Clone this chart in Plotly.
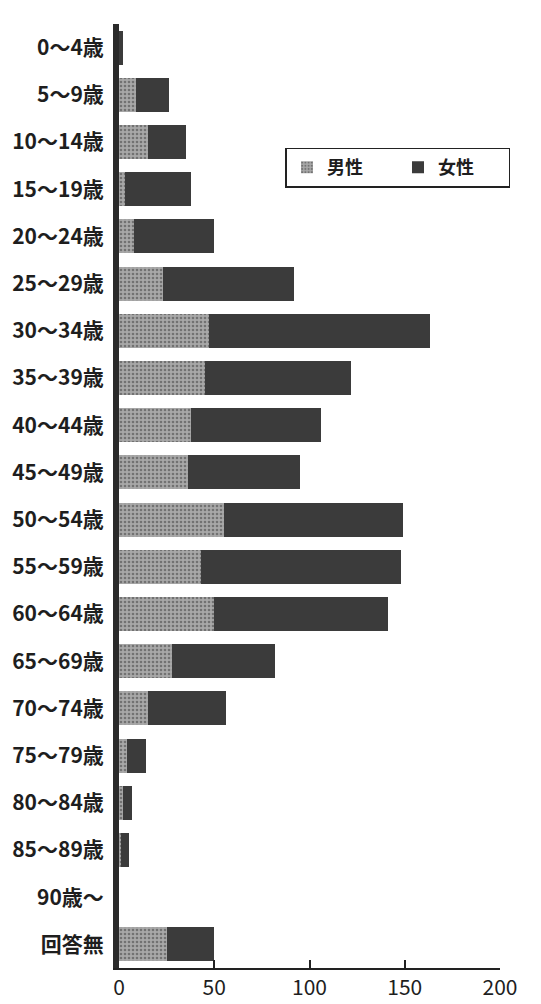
import plotly.graph_objects as go

categories = ["0～4歳", "5～9歳", "10～14歳", "15～19歳", "20～24歳", "25～29歳",
              "30～34歳", "35～39歳", "40～44歳", "45～49歳", "50～54歳", "55～59歳",
              "60～64歳", "65～69歳", "70～74歳", "75～79歳", "80～84歳", "85～89歳",
              "90歳～", "回答無"]
male = [0, 9, 15, 3, 8, 23, 47, 45, 38, 36, 55, 43, 50, 28, 15, 4, 2, 1, 0, 25]
female = [2, 17, 20, 35, 42, 69, 116, 77, 68, 59, 94, 105, 91, 54, 41, 10, 5, 4, 0, 25]
x_ticks = [0, 50, 100, 150, 200]

font_family = "Noto Sans CJK JP, Noto Sans, sans-serif"

fig = go.Figure()
fig.add_trace(go.Bar(
    y=categories, x=male, orientation="h", name="男性",
    marker=dict(color="#a8a8a8", line=dict(width=0),
                pattern=dict(shape=".", fgcolor="#3c3c3c", size=4, solidity=0.35)),
))
fig.add_trace(go.Bar(
    y=categories, x=female, orientation="h", name="女性",
    marker=dict(color="#3b3b3b", line=dict(width=0)),
))

fig.update_layout(
    barmode="stack",
    bargap=0.28,
    width=541, height=1004,
    margin=dict(l=116, r=41, t=24, b=36),
    paper_bgcolor="white", plot_bgcolor="white",
    font=dict(family=font_family, color="#1e1e1e"),
    showlegend=True,
    legend=dict(
        orientation="h", x=0.437, y=0.869, xanchor="left", yanchor="top",
        traceorder="normal",
        bordercolor="#222", borderwidth=1.5, bgcolor="white",
        font=dict(size=18, family=font_family, color="#1e1e1e", weight="bold"),
        entrywidth=66, itemwidth=30,
    ),
)
fig.update_xaxes(
    range=[0, 200], tickvals=x_ticks, ticktext=[str(v) for v in x_ticks],
    showgrid=False, zeroline=False, automargin=False,
    showline=True, linecolor="#222", linewidth=2,
    ticks="inside", ticklen=8, tickwidth=1.5, tickcolor="#222",
    tickfont=dict(size=21, family=font_family, color="#1e1e1e"),
)
fig.update_yaxes(
    categoryorder="array", categoryarray=categories, autorange="reversed",
    showgrid=False, zeroline=False,
    showline=True, linecolor="#2a2a2a", linewidth=6,
    ticks="", ticklabelstandoff=5,
    tickfont=dict(size=21, family=font_family, color="#1e1e1e", weight="bold"),
)

fig.write_html("out.html")
